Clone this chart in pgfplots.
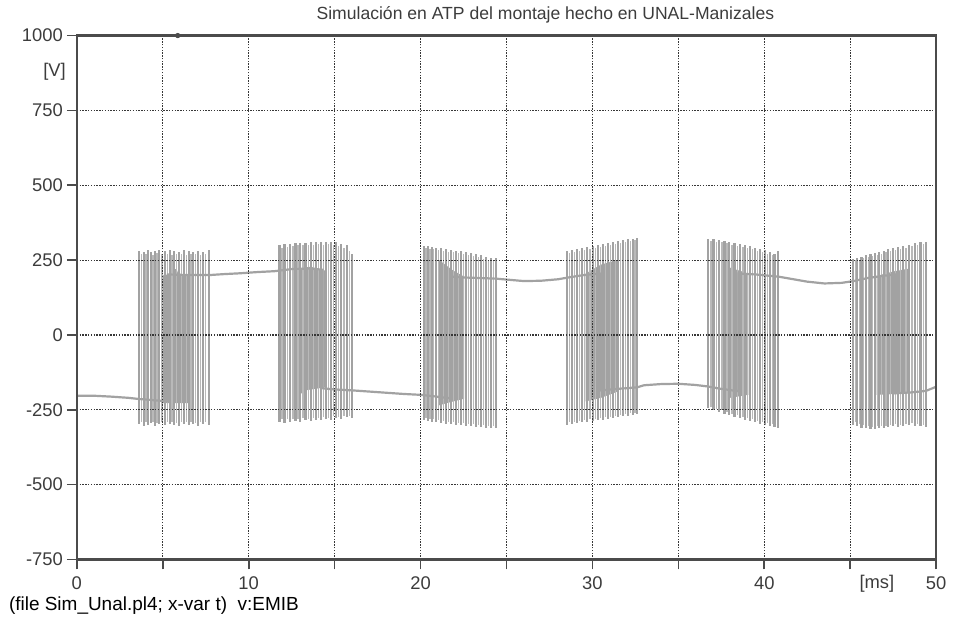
\documentclass[border=0pt]{standalone}
\usepackage{pgfplots}
\usepackage{pgfplotstable}
\pgfplotsset{compat=1.18}
\usepackage{fontspec}
\setmainfont{Liberation Sans}
\definecolor{sig}{RGB}{162,162,162}
\definecolor{axc}{RGB}{75,75,75}
\definecolor{grd}{RGB}{55,55,55}
\definecolor{txt}{RGB}{60,60,60}

% switching strokes: t [ms], z (anchor), top [V], bottom magnitude [V]
\pgfplotstableread{
t z hi lo
3.62 0 282 297
3.89 0 278 303
4.14 0 283 300
4.33 0 276 295
4.53 0 280 305
4.78 0 285 298
5.11 0 279 302
5.40 0 283 296
5.65 0 281 300
5.94 0 277 304
6.23 0 284 297
6.52 0 280 301
6.75 0 278 299
7.04 0 282 303
7.33 0 276 298
7.67 0 285 302
11.79 0 300 290
12.08 0 303 295
12.41 0 305 290
12.72 0 306 288
12.99 0 308 292
13.30 0 308 285
13.63 0 310 288
13.92 0 310 283
14.21 0 312 285
14.50 0 310 280
14.79 0 312 283
15.08 0 310 278
15.37 0 305 282
15.70 0 300 275
16.01 0 272 278
20.20 0 298 285
20.42 0 296 288
20.65 0 294 290
20.89 0 292 292
21.18 0 290 295
21.47 0 287 296
21.76 0 285 298
22.05 0 282 300
22.34 0 280 302
22.63 0 276 303
22.92 0 273 305
23.21 0 270 306
23.50 0 266 308
23.79 0 262 310
24.08 0 258 311
24.41 0 258 312
28.53 0 280 300
28.82 0 283 297
29.11 0 286 295
29.40 0 290 292
29.69 0 293 290
30.04 0 296 288
30.33 0 300 285
30.62 0 303 283
30.91 0 306 280
31.20 0 310 277
31.49 0 313 275
31.78 0 316 272
32.06 0 319 270
32.35 0 322 267
32.60 0 325 265
36.72 0 322 245
37.05 0 320 252
37.38 0 318 258
37.69 0 315 263
37.96 0 312 268
38.27 0 308 273
38.60 0 305 278
38.89 0 300 283
39.18 0 297 288
39.47 0 292 292
39.76 0 288 296
40.05 0 283 300
40.34 0 278 303
40.59 0 272 306
40.82 0 280 310
45.18 0 255 300
45.41 0 258 305
45.66 0 262 310
45.92 0 266 312
46.18 0 270 315
46.44 0 274 313
46.69 0 278 310
46.96 0 282 312
47.21 0 286 308
47.50 0 290 305
47.79 0 294 307
48.08 0 298 303
48.41 0 302 300
48.76 0 306 303
49.09 0 310 305
49.40 0 312 308
}\strokes

% fainter intermediate strokes
\pgfplotstableread{
t z hi lo
3.76 0 270 290
4.02 0 272 292
4.43 0 268 290
4.66 0 274 294
4.95 0 270 292
5.26 0 272 290
5.53 0 268 292
5.80 0 270 294
6.08 0 272 290
6.38 0 268 292
6.64 0 270 290
6.90 0 272 294
7.19 0 268 290
7.50 0 272 292
11.94 0 292 282
12.25 0 295 280
12.57 0 298 282
12.86 0 300 280
13.15 0 300 278
13.47 0 302 280
13.78 0 302 276
14.07 0 304 278
14.36 0 302 274
14.65 0 304 276
14.94 0 302 272
15.23 0 298 274
15.54 0 292 270
15.86 0 280 270
20.31 0 290 278
20.54 0 288 280
20.77 0 286 282
21.03 0 284 285
21.32 0 281 288
21.62 0 278 290
21.91 0 276 292
22.20 0 273 294
22.49 0 270 295
22.78 0 266 297
23.07 0 263 298
23.36 0 259 300
23.65 0 255 302
23.94 0 252 303
24.25 0 250 304
28.68 0 274 292
28.97 0 277 290
29.26 0 280 288
29.55 0 284 285
29.87 0 287 282
30.19 0 290 280
30.48 0 294 278
30.77 0 297 275
31.06 0 300 273
31.35 0 304 270
31.64 0 307 268
31.92 0 310 265
32.21 0 313 262
32.48 0 316 260
36.89 0 314 240
37.22 0 312 246
37.54 0 310 252
37.83 0 306 258
38.12 0 302 264
38.44 0 298 268
38.75 0 294 274
39.04 0 290 278
39.33 0 286 282
39.62 0 282 286
39.91 0 277 290
40.20 0 272 293
40.47 0 266 296
45.30 0 250 292
45.54 0 252 298
45.79 0 256 302
46.05 0 260 305
46.31 0 264 307
46.57 0 268 305
46.83 0 272 303
47.09 0 276 305
47.36 0 280 300
47.65 0 284 298
47.94 0 288 300
48.25 0 292 296
48.59 0 296 294
48.93 0 300 297
49.25 0 304 300
}\faint

% slowly varying level between switchings
\pgfplotstableread{
t v
0.0 -203
1.0 -203
2.0 -206
3.0 -210
3.62 -214
4.5 -218
5.3 -222
5.3 202
6.5 200
7.7 200
8.5 203
9.5 206
10.5 210
11.5 213
11.8 215
12.5 220
13.5 222
14.3 218
14.3 -178
15.0 -182
16.0 -185
17.0 -189
18.0 -193
19.0 -197
20.0 -200
20.8 -205
21.8 -212
21.8 195
22.5 192
23.5 190
24.4 188
25.0 185
26.0 180
27.0 181
28.0 186
28.7 193
29.5 200
30.5 205
30.5 -185
31.5 -180
32.6 -175
33.0 -168
34.0 -164
35.0 -163
36.0 -167
36.7 -172
37.5 -180
38.5 -188
38.5 205
39.5 202
40.8 195
41.5 188
42.5 178
43.5 172
44.5 174
45.2 180
46.0 190
47.0 198
47.6 202
47.6 -195
48.5 -192
49.4 -187
50.0 -173
}\level

\begin{document}
\begin{tikzpicture}
\begin{axis}[
  at={(0,0)}, anchor=south west,
  scale only axis, width=430.5pt, height=262.5pt,
  xmin=0, xmax=50, ymin=-750, ymax=1000,
  xtick={0,10,...,50}, minor xtick={5,15,...,45},
  ytick={-750,-500,...,1000},
  grid=both, axis on top,
  major grid style={draw=grd, line width=0.6pt, dash pattern=on 0.7pt off 0.7pt},
  minor grid style={draw=grd, line width=0.6pt, dash pattern=on 0.7pt off 0.7pt},
  axis line style={draw=axc, line width=1.1pt},
  tick align=outside, tick pos=left,
  major tick length=5pt, minor tick length=5pt,
  every tick/.style={draw=axc, line width=0.8pt},
  minor tick style={draw=axc, line width=0.8pt},
  ticklabel style={font=\fontsize{9.2}{10}\selectfont, text=txt},
  yticklabel style={xshift=1.5pt},
  /pgf/number format/assume math mode=true,
  /pgf/number format/1000 sep={},
  clip=false,
]
% dense switching regions
\addplot[fill=sig, draw=none, forget plot] coordinates {(4.92,-228) (6.47,-228) (6.47,200) (5.9,205) (5.8,220) (5.5,220) (5.4,203) (4.92,198)} -- cycle;
\addplot[fill=sig, draw=none, forget plot] coordinates {(12.9,-195) (13.3,-195) (13.3,-185) (14.45,-175) (14.45,215) (13.6,228) (12.9,222)} -- cycle;
\addplot[fill=sig, draw=none, forget plot] coordinates {(21.08,-235) (21.5,-228) (22.53,-213) (22.53,195) (21.9,215) (21.08,250)} -- cycle;
\addplot[fill=sig, draw=none, forget plot] coordinates {(29.6,-222) (30.5,-210) (31.43,-190) (31.43,250) (30.5,235) (29.6,205)} -- cycle;
\addplot[fill=sig, draw=none, forget plot] coordinates {(38.0,-210) (39.08,-200) (39.08,205) (38.0,225)} -- cycle;
\addplot[fill=sig, draw=none, forget plot] coordinates {(46.53,-200) (48.47,-195) (48.47,222) (47.5,212) (46.53,197)} -- cycle;
% switching strokes
\addplot[draw=none, mark=none, forget plot,
  error bars/.cd, y dir=both, y explicit, error mark=none,
  error bar style={draw=sig!75!white, line width=0.7pt}]
  table[x=t, y=z, y error plus=hi, y error minus=lo] {\faint};
\addplot[draw=none, mark=none, forget plot,
  error bars/.cd, y dir=both, y explicit, error mark=none,
  error bar style={draw=sig, line width=1.1pt}]
  table[x=t, y=z, y error plus=hi, y error minus=lo] {\strokes};
% level
\addplot[draw=sig, line width=1.1pt, mark=none, forget plot] table[x=t, y=v] {\level};
% marker on the top border
\addplot[only marks, mark=*, mark size=1.1pt, color=axc, forget plot] coordinates {(5.87,1000)};

\node[anchor=base, font=\fontsize{8.8}{10}\selectfont, text=txt] at (rel axis cs:0.5453,1) [yshift=8pt] {Simulación en ATP del montaje hecho en UNAL-Manizales};
\node[anchor=base east, font=\fontsize{9.2}{10}\selectfont, text=txt] at (axis cs:0,863) [xshift=-2pt] {[V]};
\node[anchor=base, font=\fontsize{9.2}{10}\selectfont, text=txt] at (axis cs:46.55,-847) {[ms]};
\node[anchor=base west, font=\fontsize{9.5}{10}\selectfont, text=black] at (rel axis cs:0,0) [xshift=-37.5pt, yshift=-25.5pt] {(file Sim\_Unal.pl4; x-var t)\ \ v:EMIB};
\end{axis}
\path (-38.5pt,-33pt) rectangle (438pt,279.5pt);
\end{tikzpicture}
\end{document}
